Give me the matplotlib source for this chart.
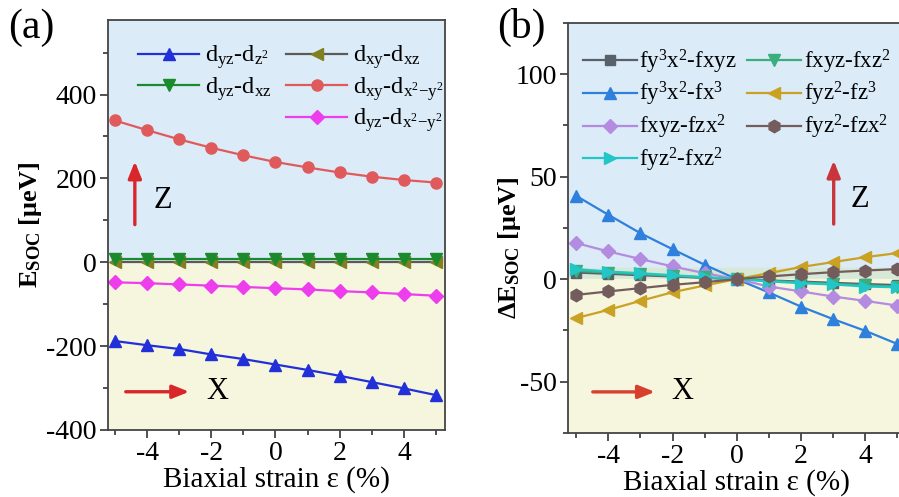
import matplotlib
matplotlib.use('Agg')
import matplotlib.pyplot as plt
from matplotlib.lines import Line2D

plt.rcParams['font.family'] = 'serif'
plt.rcParams['font.serif'] = ['Liberation Serif', 'DejaVu Serif']
plt.rcParams['mathtext.fontset'] = 'custom'
plt.rcParams['mathtext.rm'] = 'Liberation Serif'
plt.rcParams['mathtext.it'] = 'Liberation Serif:italic'
plt.rcParams['mathtext.bf'] = 'Liberation Serif:bold'
plt.rcParams['axes.unicode_minus'] = False

strain = [-5, -4, -3, -2, -1, 0, 1, 2, 3, 4, 5]

# panel (a) values, ueV
yz_z2 = [-188, -198, -207, -220, -231, -244, -257, -271, -286, -301, -317]
yz_xz = [7, 7, 7, 7, 7, 7, 7, 7, 7, 7, 7]
xy_xz = [1, 1, 1, 1, 1, 1, 1, 1, 1, 1, 1]
xy_x2y2 = [338, 315, 293, 273, 255, 239, 226, 214, 204, 196, 190]
yz_x2y2 = [-48, -50, -53, -56, -59, -62, -65, -69, -72, -76, -80]

# panel (b) values, ueV
f_y3x2_xyz = [3.2, 2.6, 1.9, 1.3, 0.6, 0, -0.6, -1.2, -1.8, -2.4, -2.9]
f_y3x2_x3 = [40.6, 31.4, 22.4, 14.6, 7.0, 0, -6.5, -13.4, -19.5, -25.2, -31.6]
f_xyz_zx2 = [17.6, 13.5, 9.8, 6.2, 2.9, 0, -3.6, -6.0, -8.5, -10.6, -12.9]
f_yz2_xz2 = [4.9, 3.7, 2.9, 1.9, 1.0, 0, -1.1, -2.0, -2.6, -3.6, -4.0]
f_xyz_xz2 = [4.0, 3.2, 2.4, 1.6, 0.8, 0, -0.8, -1.6, -2.3, -3.0, -3.6]
f_yz2_z3 = [-19.0, -15.0, -10.6, -6.4, -3.1, 0, 2.9, 5.9, 8.3, 10.7, 12.7]
f_yz2_zx2 = [-7.7, -6.0, -4.4, -2.8, -1.5, 0, 1.3, 2.4, 3.4, 4.2, 4.9]

blue_bg = '#dbebf7'
yellow_bg = '#f6f5de'
green_bg = '#d8e8d6'

fig = plt.figure(figsize=(8.99, 4.97), dpi=100)
axa = fig.add_axes([0.120, 0.135, 0.375, 0.825])
axb = fig.add_axes([0.632, 0.129, 0.375, 0.825])

lw = 1.6
ms = 8
arrow = '-|>,head_width=0.4,head_length=1.0'

# ---------- (a) ----------
axa.axhspan(0, 600, color=blue_bg, zorder=0)
axa.axhspan(-600, 0, color=yellow_bg, zorder=0)
axa.plot(strain, yz_z2, '-^', color='#2130d8', lw=lw, ms=ms)
axa.plot(strain, xy_xz, '-<', color='#5a5a5a', mfc='#808020', mec='#808020', lw=lw, ms=ms)
axa.plot(strain, yz_xz, '-v', color='#1b8a2c', lw=lw, ms=ms)
axa.plot(strain, xy_x2y2, '-o', color='#e05a5c', lw=lw, ms=ms)
axa.plot(strain, yz_x2y2, '-D', color='#ee3ded', lw=lw, ms=ms - 1)

h = [Line2D([], [], color='#2130d8', marker='^', lw=lw, ms=ms),
     Line2D([], [], color='#1b8a2c', marker='v', lw=lw, ms=ms),
     Line2D([], [], color='none'),
     Line2D([], [], color='#5a5a5a', marker='<', mfc='#808020', mec='#808020', lw=lw, ms=ms),
     Line2D([], [], color='#e05a5c', marker='o', lw=lw, ms=ms),
     Line2D([], [], color='#ee3ded', marker='D', lw=lw, ms=ms - 1)]
lab = [r'd$_{yz}$-d$_{z^2}$',
       r'd$_{yz}$-d$_{xz}$',
       '',
       r'd$_{xy}$-d$_{xz}$',
       r'd$_{xy}$-d$_{x^2\mathrm{-}y^2}$',
       r'd$_{yz}$-d$_{x^2\mathrm{-}y^2}$']
lab = [s.replace('$_{', r'$_\mathrm{').replace('^2', r'^\mathrm{2}') for s in lab]
axa.legend(h, lab, ncol=2, loc='upper left', bbox_to_anchor=(0.09, 0.942),
           frameon=False, fontsize=17.5, handlelength=2.5, handletextpad=0.25,
           columnspacing=0.6, labelspacing=0.15, borderpad=0, borderaxespad=0)

axa.set_xlim(-5.22, 5.28)
axa.set_ylim(-400, 578)
axa.set_yticks([-400, -200, 0, 200, 400])
axa.set_yticks([-300, -100, 100, 300, 500], minor=True)
axa.set_ylabel(r'E$_\mathbf{SOC}$ [μeV]', fontsize=19, fontweight='bold')
axa.yaxis.set_label_coords(-0.19, 0.5)

axa.annotate('', xy=(-4.38, 247), xytext=(-4.38, 83),
             arrowprops=dict(arrowstyle=arrow, color='#d8262a', lw=2.4))
axa.text(-3.5, 148, 'Z', fontsize=22, ha='center', va='center')
axa.annotate('', xy=(-2.6, -309), xytext=(-4.75, -309),
             arrowprops=dict(arrowstyle=arrow, color='#d8262a', lw=2.4))
axa.text(-1.82, -309, 'X', fontsize=22, ha='center', va='center')

# ---------- (b) ----------
axb.axhspan(5.5, 200, color=blue_bg, zorder=0)
axb.axhspan(0, 5.5, color=green_bg, zorder=0)
axb.axhspan(-200, 0, color=yellow_bg, zorder=0)
axb.plot(strain, f_y3x2_xyz, '-s', color='#58606a', lw=lw, ms=ms - 1, label=r'fy$^3$x$^2$-fxyz')
axb.plot(strain, f_y3x2_x3, '-^', color='#2f80dc', lw=lw, ms=ms, label=r'fy$^3$x$^2$-fx$^3$')
axb.plot(strain, f_xyz_zx2, '-D', color='#b38be0', lw=lw, ms=ms - 1, label=r'fxyz-fzx$^2$')
axb.plot(strain, f_xyz_xz2, '-v', color='#3aae7c', lw=lw, ms=ms, label=r'fxyz-fxz$^2$')
axb.plot(strain, f_yz2_xz2, '->', color='#22c6c6', lw=lw, ms=ms, label=r'fyz$^2$-fxz$^2$')
axb.plot(strain, f_yz2_z3, '-<', color='#c9a224', lw=lw, ms=ms, label=r'fyz$^2$-fz$^3$')
axb.plot(strain, f_yz2_zx2, '-h', color='#735c5c', lw=lw, ms=ms + 1, label=r'fyz$^2$-fzx$^2$')

hb, lb = axb.get_legend_handles_labels()
lb = [s.replace('^2', r'^\mathrm{2}').replace('^3', r'^\mathrm{3}') for s in lb]
order = [0, 1, 2, 4, 3, 5, 6]
axb.legend([hb[i] for i in order], [lb[i] for i in order], ncol=2, loc='upper left',
           bbox_to_anchor=(0.045, 0.94), frameon=False, fontsize=16.5, handlelength=2.35,
           handletextpad=0.1, columnspacing=0.45, labelspacing=0.2, borderpad=0, borderaxespad=0)

axb.set_xlim(-5.25, 5.25)
axb.set_ylim(-75, 125)
axb.set_yticks([-50, 0, 50, 100])
axb.set_yticks([-75, -25, 25, 75, 125], minor=True)
axb.set_ylabel(r'ΔE$_\mathbf{SOC}$ [μeV]', fontsize=19, fontweight='bold')
axb.yaxis.set_label_coords(-0.134, 0.451)

axb.annotate('', xy=(3.02, 59.2), xytext=(3.02, 25.5),
             arrowprops=dict(arrowstyle=arrow, color='#c8353a', lw=2.4))
axb.text(3.85, 38.7, 'Z', fontsize=22, ha='center', va='center')
axb.annotate('', xy=(-2.46, -55), xytext=(-4.57, -55),
             arrowprops=dict(arrowstyle=arrow, color='#d8402e', lw=2.4))
axb.text(-1.69, -55, 'X', fontsize=22, ha='center', va='center')

for ax in (axa, axb):
    ax.set_xticks([-4, -2, 0, 2, 4])
    ax.set_xticks([-5, -3, -1, 1, 3, 5], minor=True)
    ax.set_xlabel('Biaxial strain ε (%)', fontsize=21, labelpad=0)
    ax.tick_params(which='major', direction='out', length=6, width=1.2, labelsize=20, colors='#333333',
                   labelcolor='black', pad=2)
    ax.tick_params(which='minor', direction='out', length=3.5, width=1.2, colors='#333333')
    for s in ax.spines.values():
        s.set_linewidth(1.3)
        s.set_color('#444444')

fig.text(0.035, 0.945, '(a)', fontsize=30, ha='center', va='center')
fig.text(0.580, 0.945, '(b)', fontsize=30, ha='center', va='center')

fig.savefig('out.png', dpi=100)
